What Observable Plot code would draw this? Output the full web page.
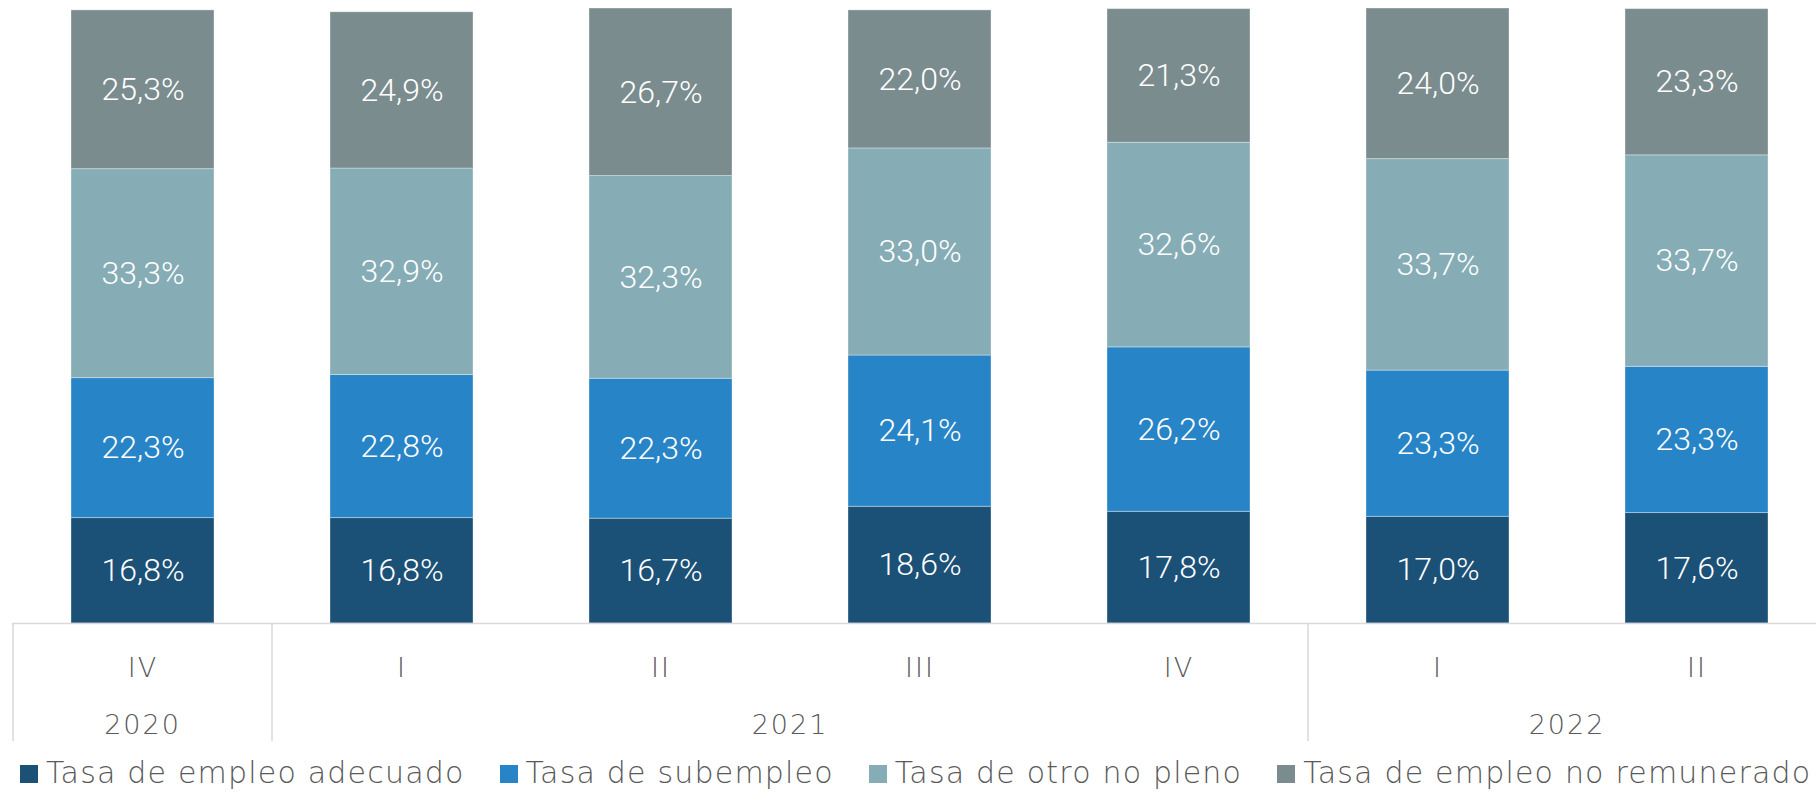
<!DOCTYPE html>
<html>
<head>
<meta charset="utf-8">
<script src="https://cdn.jsdelivr.net/npm/d3@7"></script>
<script src="https://cdn.jsdelivr.net/npm/@observablehq/plot@0.6"></script>
<style>
  html, body { margin: 0; padding: 0; background: #fff; overflow: hidden; width: 1816px; height: 793px; }
  #wrap { position: relative; width: 1816px; height: 793px; overflow: hidden; }
  #chart { width: 1828px; }
  #chart svg { display: block; overflow: visible; max-width: none !important; width: 1828px !important; height: 756px !important; }
  #chart text { font-family: "DejaVu Sans", sans-serif; font-weight: 200; }
  [aria-label="x-axis tick label"] text { letter-spacing: 2px; }
  #chart g[aria-label="text"] text { font-family: Roboto, "DejaVu Sans", sans-serif; font-weight: 300; }
  .legend { position: absolute; left: 20px; top: 756px; display: flex; gap: 35px; white-space: nowrap;
            font-family: "DejaVu Sans", sans-serif; font-weight: 200; font-size: 30px; line-height: 34px;
            color: #595959; letter-spacing: 1.2px; }
  .legend .sw { display: inline-block; width: 18px; height: 18px; margin-right: 8px; vertical-align: baseline; }
</style>
</head>
<body>
<div id="wrap">
  <div id="chart"></div>
  <div class="legend" id="legend"></div>
</div>
<script>
// ---- data ----
const years = ["2020", "2021", "2021", "2021", "2021", "2022", "2022"];
const quarters = ["IV", "I", "II", "III", "IV", "I", "II"];
const seriesNames = ["Tasa de empleo adecuado", "Tasa de subempleo", "Tasa de otro no pleno", "Tasa de empleo no remunerado"];
const adecuado = [16.8, 16.8, 16.7, 18.6, 17.8, 17.0, 17.6];
const subempleo = [22.3, 22.8, 22.3, 24.1, 26.2, 23.3, 23.3];
const otroNoPleno = [33.3, 32.9, 32.3, 33.0, 32.6, 33.7, 33.7];
const noRemunerado = [25.3, 24.9, 26.7, 22.0, 21.3, 24.0, 23.3];
const seriesColors = ["#1B5077", "#2784C7", "#86ACB6", "#7A8C8E"];

// ---- table ----
const keys = years.map((y, i) => y + "-" + quarters[i]);
const seriesValues = [adecuado, subempleo, otroNoPleno, noRemunerado];
const rows = [];
keys.forEach((k, i) => {
  seriesNames.forEach((s, j) => rows.push({key: k, year: years[i], quarter: quarters[i], series: s, value: seriesValues[j][i]}));
});
const fmt = v => v.toFixed(1).replace(".", ",") + "%";

// groups of years (contiguous)
const groups = [];
keys.forEach((k, i) => {
  const last = groups[groups.length - 1];
  if (last && last.year === years[i]) last.keys.push(k);
  else groups.push({year: years[i], keys: [k]});
});

function yearGroups(index, scales, values, dimensions) {
  const x = scales.x, y = scales.y;
  const dom = x.domain ? x.domain() : keys;
  const bw = typeof x.bandwidth === "function" ? x.bandwidth() : (scales.scales?.x?.bandwidth ?? 0);
  const step = typeof x.step === "function" ? x.step() : (x(dom[1]) - x(dom[0]));
  const half = (step - bw) / 2;
  const y0 = y(0);
  const g = d3.create("svg:g");
  for (const gr of groups) {
    const left = x(gr.keys[0]) - half;
    const right = x(gr.keys[gr.keys.length - 1]) + bw + half;
    g.append("line")
      .attr("x1", left).attr("x2", left)
      .attr("y1", y0).attr("y2", y0 + 118)
      .attr("stroke", "#d9d9d9").attr("stroke-width", 1.5);
    g.append("text")
      .attr("x", (left + right) / 2).attr("y", y0 + 101)
      .attr("text-anchor", "middle").attr("dominant-baseline", "central")
      .attr("fill", "#595959").attr("font-size", 27)
      .attr("letter-spacing", "2px")
      .attr("font-family", "DejaVu Sans, sans-serif").attr("font-weight", 200)
      .text(gr.year);
  }
  return g.node();
}

const chart = Plot.plot({
  width: 1828,
  height: 756,
  marginTop: 8,
  marginBottom: 133,
  marginLeft: 12,
  marginRight: 1,
  x: {domain: keys, paddingInner: 0.446, paddingOuter: 0.223, label: null},
  y: {domain: [0, 98], axis: null},
  color: {domain: seriesNames, range: seriesColors},
  marks: [
    Plot.barY(rows, {x: "key", y: "value", fill: "series", order: seriesNames, stroke: "#ffffff", strokeOpacity: 0.35, strokeWidth: 1}),
    Plot.text(rows, Plot.stackY({x: "key", y: "value", z: "series", order: seriesNames, text: d => fmt(d.value), fill: "white", fontSize: 32})),
    Plot.ruleY([0], {stroke: "#d9d9d9", strokeWidth: 1.5}),
    Plot.axisX({tickSize: 0, tickPadding: 34, fontSize: 27, fill: "#595959", tickFormat: d => d.split("-")[1], label: null}),
    yearGroups
  ]
});
document.getElementById("chart").appendChild(chart);

// legend
const legend = document.getElementById("legend");
seriesNames.forEach((s, i) => {
  const item = document.createElement("div");
  const sw = document.createElement("span");
  sw.className = "sw";
  sw.style.background = seriesColors[i];
  item.appendChild(sw);
  item.appendChild(document.createTextNode(s));
  legend.appendChild(item);
});
</script>
</body>
</html>
